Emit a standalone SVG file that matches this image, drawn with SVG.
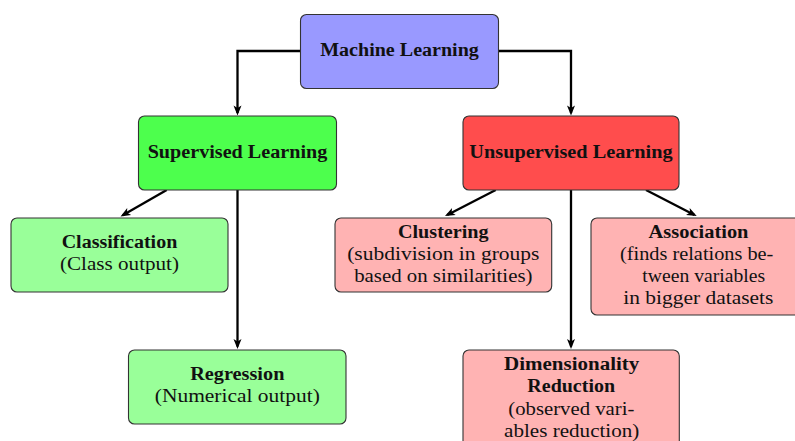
<svg xmlns="http://www.w3.org/2000/svg" width="795" height="441" viewBox="0 0 795 441">
<style>
.box{stroke:#333;stroke-width:1.1}
.ml{fill:#9999ff}.sup{fill:#4dff4d}.uns{fill:#ff4d4d}.lg{fill:#99ff99}.lr{fill:#ffb3b3}
text{font-family:"Liberation Serif","Times New Roman",serif;font-size:18px;fill:#111;text-anchor:middle}
.b{font-weight:bold}
.conn path{fill:none;stroke:#000;stroke-width:2.3;marker-end:url(#arr)}
</style>
<defs>
<marker id="arr" markerUnits="userSpaceOnUse" viewBox="-8 -6 12 12" refX="0" refY="0" markerWidth="12" markerHeight="12" orient="auto">
<path d="M2.5,0 L-7.5,-4 L-5,0 L-7.5,4 Z" fill="#000"/>
</marker>
</defs>
<g id="connectors" class="conn">
<path d="M300,51 H237.5 V113"/>
<path d="M499,51 H571 V113"/>
<path d="M166.7,190 L122.7,215.2"/>
<path d="M237.5,190 V346.5"/>
<path d="M495.7,190 L447.2,214.9"/>
<path d="M646,190 L694.5,214.9"/>
<path d="M571,190 V346.5"/>
</g>
<g id="machine-learning">
<rect class="box ml" x="300.5" y="14.5" width="198" height="74" rx="6"/>
<text class="b" x="399.5" y="56" textLength="158.7" lengthAdjust="spacingAndGlyphs">Machine Learning</text>
</g>
<g id="supervised">
<rect class="box sup" x="138.5" y="116" width="198" height="74" rx="6"/>
<text class="b" x="237.5" y="157.5" textLength="179.7" lengthAdjust="spacingAndGlyphs">Supervised Learning</text>
</g>
<g id="unsupervised">
<rect class="box uns" x="463" y="116" width="216" height="74" rx="6"/>
<text class="b" x="571" y="157.5" textLength="203.3" lengthAdjust="spacingAndGlyphs">Unsupervised Learning</text>
</g>
<g id="classification">
<rect class="box lg" x="11" y="218" width="217" height="74" rx="6"/>
<text class="b" x="119.5" y="248.3" textLength="115.7" lengthAdjust="spacingAndGlyphs">Classification</text>
<text x="119.5" y="270" textLength="119" lengthAdjust="spacingAndGlyphs">(Class output)</text>
</g>
<g id="regression">
<rect class="box lg" x="128.5" y="350" width="217.5" height="74" rx="6"/>
<text class="b" x="237.3" y="380" textLength="94.3" lengthAdjust="spacingAndGlyphs">Regression</text>
<text x="237.3" y="402" textLength="165" lengthAdjust="spacingAndGlyphs">(Numerical output)</text>
</g>
<g id="clustering">
<rect class="box lr" x="335" y="218" width="216.7" height="74" rx="6"/>
<text class="b" x="443.3" y="237.7" textLength="90.7" lengthAdjust="spacingAndGlyphs">Clustering</text>
<text x="443.3" y="259.5" textLength="192.3" lengthAdjust="spacingAndGlyphs">(subdivision in groups</text>
<text x="443.3" y="281.8" textLength="178.3" lengthAdjust="spacingAndGlyphs">based on similarities)</text>
</g>
<g id="association">
<rect class="box lr" x="591" y="218" width="216" height="97" rx="6"/>
<text class="b" x="698.5" y="237.5" textLength="100" lengthAdjust="spacingAndGlyphs">Association</text>
<text x="696.7" y="259.8" textLength="153.3" lengthAdjust="spacingAndGlyphs">(finds relations be-</text>
<text x="703.7" y="282" textLength="122.7" lengthAdjust="spacingAndGlyphs">tween variables</text>
<text x="698.3" y="304.3" textLength="150" lengthAdjust="spacingAndGlyphs">in bigger datasets</text>
</g>
<g id="dimensionality-reduction">
<rect class="box lr" x="463" y="350" width="216.3" height="110" rx="6"/>
<text class="b" x="571.7" y="369.5" textLength="135.3" lengthAdjust="spacingAndGlyphs">Dimensionality</text>
<text class="b" x="571.2" y="392" textLength="87.7" lengthAdjust="spacingAndGlyphs">Reduction</text>
<text x="571.3" y="414.5" textLength="126" lengthAdjust="spacingAndGlyphs">(observed vari-</text>
<text x="571.7" y="436.5" textLength="135.3" lengthAdjust="spacingAndGlyphs">ables reduction)</text>
</g>
</svg>
